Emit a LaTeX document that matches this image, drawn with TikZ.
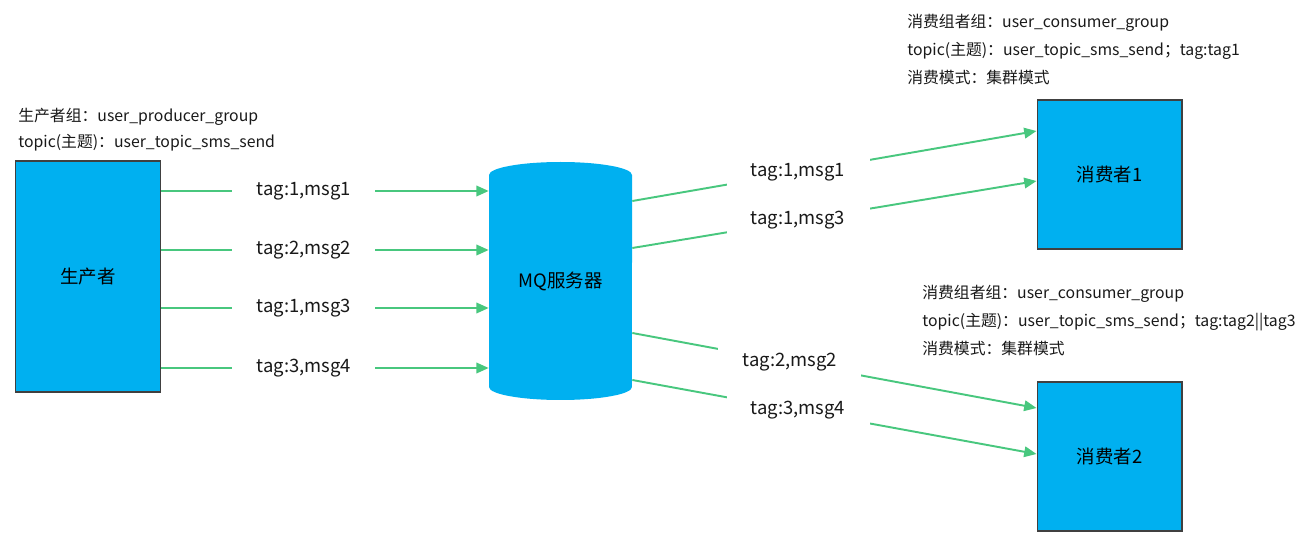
\documentclass[tikz,border=0pt]{standalone}
\usepackage{fontspec}
\setmainfont{Noto Sans CJK SC}
\usetikzlibrary{arrows.meta, positioning, calc}
\definecolor{boxblue}{RGB}{0,176,240}
\definecolor{flowgreen}{RGB}{72,199,126}

\begin{document}
\begin{tikzpicture}[
  x=0.02cm, y=0.02cm,
  actor/.style={draw=black!75, fill=boxblue, line width=0.6pt, inner sep=0pt,
                minimum width=2.9cm, font=\fontsize{10.5}{12}\selectfont},
  server/.style={inner sep=0pt, minimum width=2.86cm, minimum height=4.24cm,
                 font=\fontsize{10.5}{12}\selectfont},
  note/.style={anchor=north west, align=left, inner sep=0pt, text=black!90,
               font=\fontsize{9}{15.8}\selectfont},
  tagl/.style={fill=white, inner sep=0pt, minimum width=2.86cm, minimum height=0.72cm,
               text=black!90, font=\fontsize{10.5}{12}\selectfont},
  flow/.style={draw=flowgreen, line width=1.1pt},
  ar/.style={flow, -{Triangle[length=7pt,width=6pt]}},
]
\useasboundingbox (0,0) rectangle (1310,-543);

% ---- producer ----
\node[actor, minimum height=4.62cm] (prod) at (88,-276.5) {生产者};
\node[note, font=\fontsize{9}{14.7}\selectfont] (prodnote) at (18,-108)
  {生产者组：user\_producer\_group\\topic(主题)：user\_topic\_sms\_send};

% ---- MQ server (cylinder) ----
\fill[boxblue] (489,-175) -- (489,-387)
  arc[start angle=180, end angle=360, x radius=1.43cm, y radius=0.26cm] -- (632,-175)
  arc[start angle=0, end angle=180, x radius=1.43cm, y radius=0.26cm] -- cycle;
\node[server] (mq) at (560.5,-281) {MQ服务器};

% ---- consumers ----
\node[actor, minimum height=2.98cm] (cons1) at (1109.5,-174.5) {消费者1};
\node[note] (cons1note) at (907,-14)
  {消费组者组：user\_consumer\_group\\topic(主题)：user\_topic\_sms\_send；tag:tag1\\消费模式：集群模式};

\node[actor, minimum height=2.98cm] (cons2) at (1109.5,-456.5) {消费者2};
\node[note] (cons2note) at (922,-285)
  {消费组者组：user\_consumer\_group\\topic(主题)：user\_topic\_sms\_send；tag:tag2||tag3\\消费模式：集群模式};

% ---- producer -> MQ ----
\draw[ar] (prod.east |- 0,-191) -- node[tagl, pos=0.436] (in1) {tag:1,msg1} (mq.west |- 0,-191);
\draw[ar] (prod.east |- 0,-250) -- node[tagl, pos=0.436] (in2) {tag:2,msg2} (mq.west |- 0,-250);
\draw[ar] (prod.east |- 0,-308) -- node[tagl, pos=0.436] (in3) {tag:1,msg3} (mq.west |- 0,-308);
\draw[ar] (prod.east |- 0,-368) -- node[tagl, pos=0.436] (in4) {tag:3,msg4} (mq.west |- 0,-368);

% ---- MQ -> consumers ----
\draw[ar] (mq.east |- 0,-201) -- node[tagl, pos=0.41] (out1) {tag:1,msg1} (cons1.west |- 0,-131);
\draw[ar] (mq.east |- 0,-248) -- node[tagl, pos=0.41] (out3) {tag:1,msg3} (cons1.west |- 0,-181);
\draw[ar] (mq.east |- 0,-333) -- node[tagl, pos=0.39] (out2) {tag:2,msg2} (cons2.west |- 0,-408);
\draw[ar] (mq.east |- 0,-380) -- node[tagl, pos=0.41] (out4) {tag:3,msg4} (cons2.west |- 0,-454);
\end{tikzpicture}
\end{document}
